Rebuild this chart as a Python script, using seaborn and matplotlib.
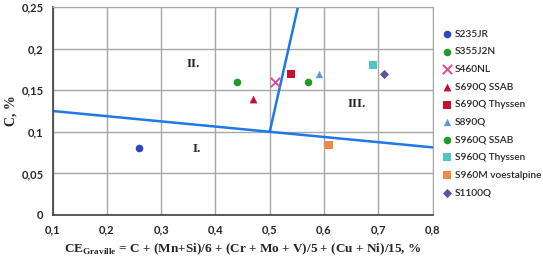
import matplotlib
matplotlib.use("Agg")
import matplotlib.pyplot as plt
import matplotlib.ticker as mticker
import seaborn as sns
import pandas as pd

# steel grades and their (CE, C) values
grades = ['S235JR', 'S355J2N', 'S460NL', 'S690Q SSAB', 'S690Q Thyssen',
          'S890Q', 'S960Q SSAB', 'S960Q Thyssen', 'S960M voestalpine', 'S1100Q']
ce = [0.26, 0.44, 0.51, 0.47, 0.54, 0.59, 0.57, 0.69, 0.61, 0.71]
carbon = [0.08, 0.16, 0.16, 0.14, 0.17, 0.17, 0.16, 0.18, 0.084, 0.17]
colors = ['#2a47c8', '#1f9a2a', '#e0489a', '#c8102e', '#c8102e',
          '#5b9bd5', '#1f9a2a', '#4cc6c6', '#f28a45', '#6250a0']
markers = ['o', 'o', 'x', '^', 's', '^', 'o', 's', 's', 'D']
sizes = [30, 30, 45, 32, 32, 28, 30, 32, 40, 22]

# Graville diagram zone boundaries
line1_x = [0.1, 0.5, 0.8]
line1_y = [0.125, 0.1, 0.08125]
line2_x = [0.5, 0.552]
line2_y = [0.1, 0.25]

zones = ['I.', 'II.', 'III.']
zone_x = [0.366, 0.36, 0.66]
zone_y = [0.079, 0.181, 0.133]

df = pd.DataFrame({'grade': grades, 'ce': ce, 'c': carbon})

sns.set_style('white')
plt.rcParams['font.family'] = ['Lato', 'DejaVu Sans']
plt.rcParams['mathtext.fontset'] = 'custom'
plt.rcParams['mathtext.bf'] = 'Liberation Serif:bold'
plt.rcParams['mathtext.rm'] = 'Liberation Serif'

fig = plt.figure(figsize=(5.43, 2.59), dpi=100)
ax = fig.add_axes([0.0967, 0.17, 0.7, 0.803])

sns.lineplot(x=line1_x, y=line1_y, ax=ax, color='#1e78e6', lw=1.8, zorder=2)
sns.lineplot(x=line2_x, y=line2_y, ax=ax, color='#1e78e6', lw=1.8, zorder=2)

for i, g in enumerate(grades):
    sns.scatterplot(data=df[df.grade == g], x='ce', y='c', ax=ax,
                    marker=markers[i], color=colors[i], s=sizes[i],
                    linewidth=1.4 if markers[i] == 'x' else 0,
                    label=g, zorder=3)

for t, x, y in zip(zones, zone_x, zone_y):
    ax.text(x, y, t, ha='center', va='center', fontsize=9.5,
            fontweight='bold', family='Liberation Serif')

ax.set_xlim(0.1, 0.8)
ax.set_ylim(0, 0.25)
ax.set_xticks([0.1, 0.2, 0.3, 0.4, 0.5, 0.6, 0.7, 0.8])
ax.set_yticks([0, 0.05, 0.1, 0.15, 0.2, 0.25])
fmt = mticker.FuncFormatter(lambda v, p: ('%g' % round(v, 2)).replace('.', ','))
ax.xaxis.set_major_formatter(fmt)
ax.yaxis.set_major_formatter(fmt)
ax.tick_params(axis='both', labelsize=8, direction='inout', length=5,
               width=1, color='#404040', pad=4)
for lab in ax.get_xticklabels() + ax.get_yticklabels():
    lab.set_fontweight('bold')

ax.grid(True, color='#a6a6a6', lw=1)
ax.set_axisbelow(True)
for s in ['top', 'right']:
    ax.spines[s].set_color('#a6a6a6')
for s in ['left', 'bottom']:
    ax.spines[s].set_color('#404040')
    ax.spines[s].set_linewidth(1.2)

ax.set_xlabel(r'CE$_{\mathbf{Graville}}$ = C + (Mn+Si)/6 + (Cr + Mo + V)/5 + (Cu + Ni)/15, %',
              fontsize=9.5, fontweight='bold', family='Liberation Serif', labelpad=5)
ax.set_ylabel('C, %', fontsize=10, fontweight='bold', family='Liberation Serif', labelpad=3)

leg = ax.legend(loc='upper left', bbox_to_anchor=(1.015, 0.91), frameon=False,
                fontsize=7.3, handletextpad=0.25, labelspacing=0.84,
                handlelength=1.0, borderaxespad=0)
for t in leg.get_texts():
    t.set_fontweight('semibold')

fig.savefig('out.png', dpi=100)
